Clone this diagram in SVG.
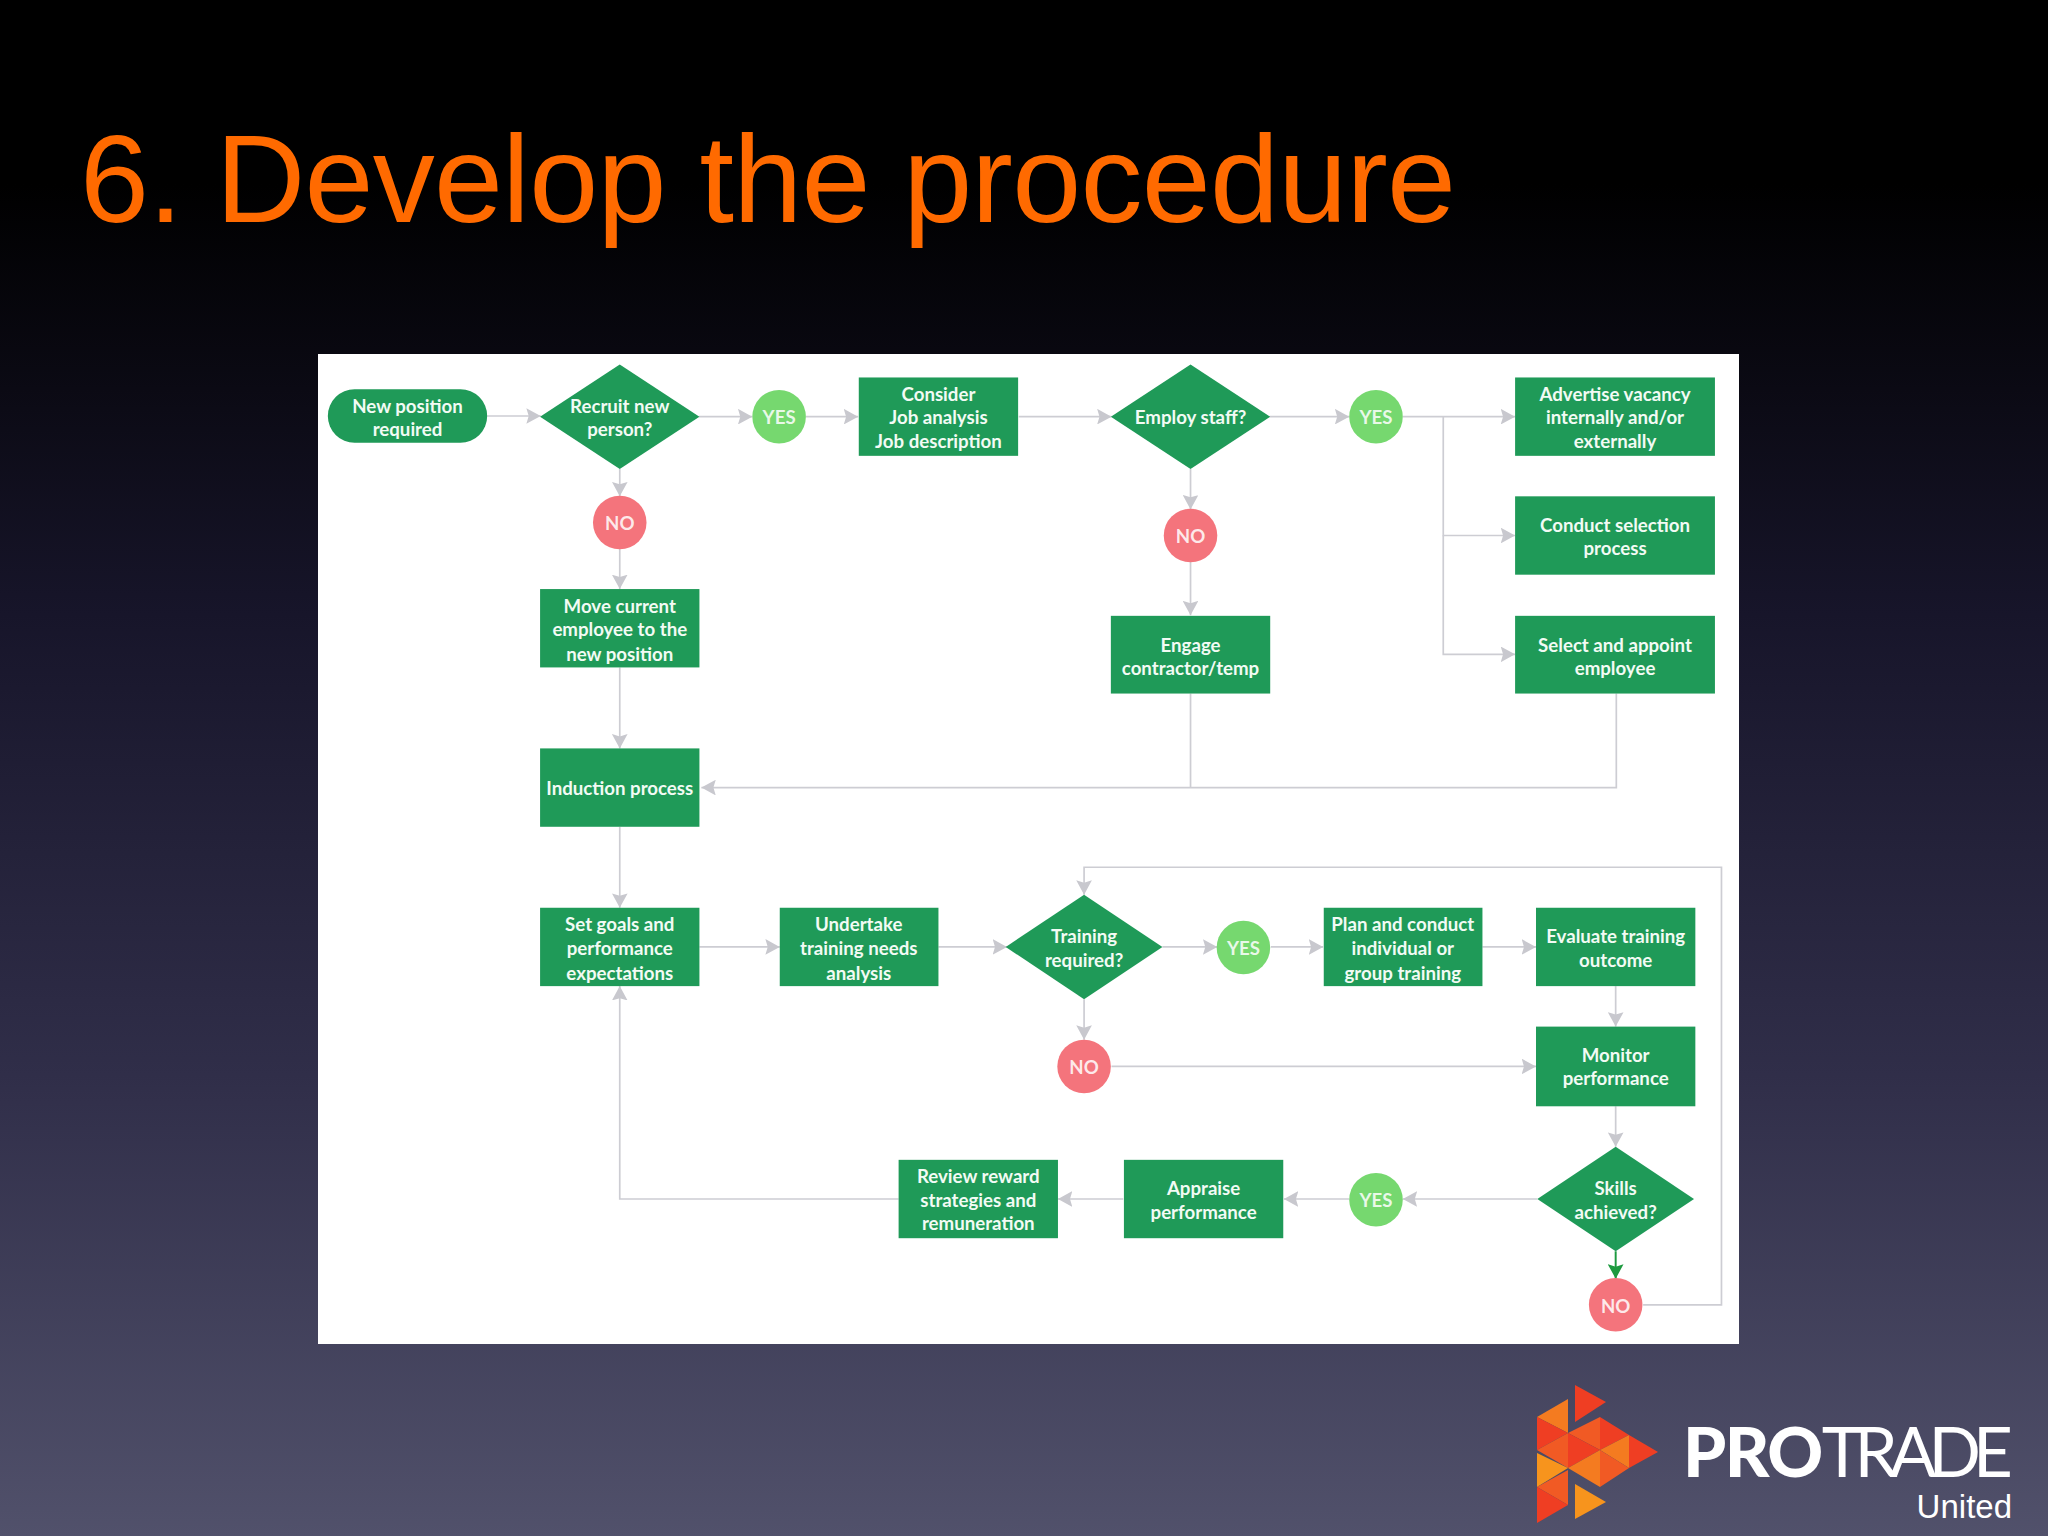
<svg xmlns="http://www.w3.org/2000/svg" width="2048" height="1536" viewBox="0 0 2048 1536">
<style>
.n{fill:#1f9a58}
.y{fill:#76d86f}
.r{fill:#f4747c}
.c{fill:none;stroke:#cdcdd3;stroke-width:1.3}
.t{font-family:"Lato","Liberation Sans",sans-serif;font-size:14.3px;font-weight:700;fill:#f2fbf4;text-anchor:middle}
.b{font-family:"Lato","Liberation Sans",sans-serif;font-size:14.3px;font-weight:700;fill:#fff;text-anchor:middle;fill-opacity:.85}
</style>
<defs>
<linearGradient id="bg" x1="0" y1="0" x2="0" y2="1">
<stop offset="0.12" stop-color="#000"/>
<stop offset="0.4" stop-color="#17152a"/>
<stop offset="0.7" stop-color="#302e49"/>
<stop offset="1" stop-color="#51516b"/>
</linearGradient>
<marker id="a" viewBox="0 0 12 12" refX="11" refY="6" markerWidth="12" markerHeight="12" markerUnits="userSpaceOnUse" orient="auto"><path d="M0 0L11 6L0 12L1.800 6Z" fill="#c8c8ce"/></marker>
<marker id="g" viewBox="0 0 12 12" refX="11" refY="6" markerWidth="12" markerHeight="12" markerUnits="userSpaceOnUse" orient="auto"><path d="M0 0L11 6L0 12L1.800 6Z" fill="#1d9a3f"/></marker>
</defs>
<rect width="2048" height="1536" fill="url(#bg)"/>
<text x="80" y="222" font-family="Liberation Sans,Arial,sans-serif" font-size="124" fill="#ff6a00" textLength="1376">6. Develop the procedure</text>
<rect x="318" y="354" width="1421" height="990" fill="#fff"/>
<g transform="scale(1.30612)">
<g id="connectors">
<path class="c" marker-end="url(#a)" d="M373 318.500H414"/>
<path class="c" marker-end="url(#a)" d="M535 319H576"/>
<path class="c" marker-end="url(#a)" d="M617 319H657"/>
<path class="c" marker-end="url(#a)" d="M780 319H851"/>
<path class="c" marker-end="url(#a)" d="M972 319H1033"/>
<path class="c" marker-end="url(#a)" d="M1074 319H1160"/>
<path class="c" marker-end="url(#a)" d="M1105 319V410H1160"/>
<path class="c" marker-end="url(#a)" d="M1105 410V501H1160"/>
<path class="c" marker-end="url(#a)" d="M474.500 359V380"/>
<path class="c" marker-end="url(#a)" d="M474.500 420V451"/>
<path class="c" marker-end="url(#a)" d="M474.500 511V573"/>
<path class="c" marker-end="url(#a)" d="M474.500 633V695"/>
<path class="c" marker-end="url(#a)" d="M911.500 359V390"/>
<path class="c" marker-end="url(#a)" d="M911.500 430V471"/>
<path class="c" d="M911.500 531V603"/>
<path class="c" marker-end="url(#a)" d="M1237.500 531V603H537"/>
<path class="c" marker-end="url(#a)" d="M535.500 725H597"/>
<path class="c" marker-end="url(#a)" d="M718.500 725H771"/>
<path class="c" marker-end="url(#a)" d="M890 725H932"/>
<path class="c" marker-end="url(#a)" d="M973 725H1013"/>
<path class="c" marker-end="url(#a)" d="M1135 725H1176"/>
<path class="c" marker-end="url(#a)" d="M830 765V796"/>
<path class="c" marker-end="url(#a)" d="M851 816.500H1176"/>
<path class="c" marker-end="url(#a)" d="M1237 755V786"/>
<path class="c" marker-end="url(#a)" d="M1237 847V878"/>
<path fill="none" stroke="#1d9a3f" stroke-width="1.500" marker-end="url(#g)" d="M1237 958V979"/>
<path class="c" marker-end="url(#a)" d="M1177 918H1074"/>
<path class="c" marker-end="url(#a)" d="M1033 918H983"/>
<path class="c" marker-end="url(#a)" d="M860 918H810"/>
<path class="c" marker-end="url(#a)" d="M688 918H474.500V755"/>
<path class="c" marker-end="url(#a)" d="M1258 999H1318V664H830V685"/>
</g>
<g id="new-position"><rect class="n" x="251" y="298" width="122" height="41" rx="20.500"/><text class="t" x="312" y="316">New position</text><text class="t" x="312" y="334">required</text></g>
<g id="recruit"><polygon class="n" points="413.500,319 474.500,279 535.500,319 474.500,359"/><text class="t" x="474.500" y="316">Recruit new</text><text class="t" x="474.500" y="334">person?</text></g>
<g id="yes1"><circle class="y" cx="596.500" cy="319" r="20.500"/><text class="b" x="596.500" y="325">YES</text></g>
<g id="consider"><rect class="n" x="657.500" y="289" width="122" height="60"/><text class="t" x="718.500" y="307">Consider</text><text class="t" x="718.500" y="325">Job analysis</text><text class="t" x="718.500" y="343">Job description</text></g>
<g id="employ"><polygon class="n" points="850.500,319 911.500,279 972.500,319 911.500,359"/><text class="t" x="911.500" y="325">Employ staff?</text></g>
<g id="yes2"><circle class="y" cx="1053.500" cy="319" r="20.500"/><text class="b" x="1053.500" y="325">YES</text></g>
<g id="advertise"><rect class="n" x="1160" y="289" width="153" height="60"/><text class="t" x="1236.500" y="307">Advertise vacancy</text><text class="t" x="1236.500" y="325">internally and/or</text><text class="t" x="1236.500" y="343">externally</text></g>
<g id="conduct"><rect class="n" x="1160" y="380" width="153" height="60"/><text class="t" x="1236.500" y="407">Conduct selection</text><text class="t" x="1236.500" y="425">process</text></g>
<g id="select"><rect class="n" x="1160" y="471.500" width="153" height="59.500"/><text class="t" x="1236.500" y="499">Select and appoint</text><text class="t" x="1236.500" y="517">employee</text></g>
<g id="no1"><circle class="r" cx="474.500" cy="400" r="20.500"/><text class="b" x="474.500" y="406">NO</text></g>
<g id="move"><rect class="n" x="413.500" y="451" width="122" height="60"/><text class="t" x="474.500" y="469">Move current</text><text class="t" x="474.500" y="487">employee to the</text><text class="t" x="474.500" y="506">new position</text></g>
<g id="induction"><rect class="n" x="413.500" y="573" width="122" height="60"/><text class="t" x="474.500" y="609">Induction process</text></g>
<g id="no2"><circle class="r" cx="911.500" cy="410" r="20.500"/><text class="b" x="911.500" y="416">NO</text></g>
<g id="engage"><rect class="n" x="850.500" y="471.500" width="122" height="59.500"/><text class="t" x="911.500" y="499">Engage</text><text class="t" x="911.500" y="517">contractor/temp</text></g>
<g id="goals"><rect class="n" x="413.500" y="695" width="122" height="60"/><text class="t" x="474.500" y="713">Set goals and</text><text class="t" x="474.500" y="731">performance</text><text class="t" x="474.500" y="750">expectations</text></g>
<g id="undertake"><rect class="n" x="597" y="695" width="121.500" height="60"/><text class="t" x="657.500" y="713">Undertake</text><text class="t" x="657.500" y="731">training needs</text><text class="t" x="657.500" y="750">analysis</text></g>
<g id="training"><polygon class="n" points="770,725 830,685 890,725 830,765"/><text class="t" x="830" y="722">Training</text><text class="t" x="830" y="740">required?</text></g>
<g id="yes3"><circle class="y" cx="952" cy="725.500" r="20.500"/><text class="b" x="952" y="731">YES</text></g>
<g id="plan"><rect class="n" x="1013.500" y="695" width="121.500" height="60"/><text class="t" x="1074" y="713">Plan and conduct</text><text class="t" x="1074" y="731">individual or</text><text class="t" x="1074" y="750">group training</text></g>
<g id="evaluate"><rect class="n" x="1176" y="695" width="122" height="60"/><text class="t" x="1237" y="722">Evaluate training</text><text class="t" x="1237" y="740">outcome</text></g>
<g id="no3"><circle class="r" cx="830" cy="816.500" r="20.500"/><text class="b" x="830" y="822">NO</text></g>
<g id="monitor"><rect class="n" x="1176" y="786" width="122" height="61"/><text class="t" x="1237" y="813">Monitor</text><text class="t" x="1237" y="831">performance</text></g>
<g id="skills"><polygon class="n" points="1177,918 1237,878 1297,918 1237,958"/><text class="t" x="1237" y="915">Skills</text><text class="t" x="1237" y="933">achieved?</text></g>
<g id="yes4"><circle class="y" cx="1053.500" cy="918.500" r="20.500"/><text class="b" x="1053.500" y="924">YES</text></g>
<g id="appraise"><rect class="n" x="860.500" y="888" width="122" height="60"/><text class="t" x="921.500" y="915">Appraise</text><text class="t" x="921.500" y="933">performance</text></g>
<g id="review"><rect class="n" x="688" y="888" width="122" height="60"/><text class="t" x="749" y="906">Review reward</text><text class="t" x="749" y="924">strategies and</text><text class="t" x="749" y="942">remuneration</text></g>
<g id="no4"><circle class="r" cx="1237" cy="999" r="20.500"/><text class="b" x="1237" y="1005">NO</text></g>
</g>
<g id="logo">
<polygon fill="#ef3e23" points="1575,1385 1606,1402 1575,1422"/>
<polygon fill="#f7941d" points="1575,1484 1606,1502 1575,1519"/>
<polygon fill="#f47b20" points="1568,1399 1537,1417 1568,1433"/>
<polygon fill="#ef3e23" points="1537,1417 1568,1433 1537,1450"/>
<polygon fill="#f15a24" points="1537,1450 1568,1433 1568,1468"/>
<polygon fill="#f7941d" points="1537,1453 1568,1468 1537,1487"/>
<polygon fill="#f15a24" points="1537,1487 1568,1470 1568,1505"/>
<polygon fill="#ef3e23" points="1537,1487 1568,1505 1537,1523"/>
<polygon fill="#f15a24" points="1568,1433 1600,1417 1600,1450"/>
<polygon fill="#ef3e23" points="1568,1433 1600,1450 1568,1468"/>
<polygon fill="#ef3e23" points="1600,1417 1629,1435 1600,1450"/>
<polygon fill="#f47b20" points="1568,1468 1600,1450 1600,1487"/>
<polygon fill="#f47b20" points="1600,1450 1629,1435 1629,1468"/>
<polygon fill="#f15a24" points="1600,1450 1629,1468 1600,1487"/>
<polygon fill="#ef3e23" points="1629,1435 1658,1452 1629,1468"/>
<text x="1683" y="1477" font-family="Lato,Liberation Sans,sans-serif" font-size="69" fill="#fff"><tspan font-weight="900" letter-spacing="-1.500">PRO</tspan><tspan font-weight="400" letter-spacing="-8">TRADE</tspan></text>
<text x="2012" y="1518" font-family="Liberation Sans,sans-serif" font-size="33" fill="#fff" text-anchor="end">United</text>
</g>
</svg>
